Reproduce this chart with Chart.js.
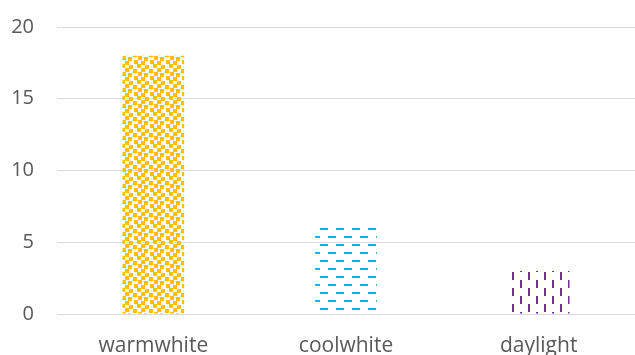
<!DOCTYPE html>
<html>
<head>
<meta charset="utf-8">
<script src="https://cdn.jsdelivr.net/npm/chart.js@4.4.0/dist/chart.umd.min.js"></script>
<style>
  html, body { margin: 0; padding: 0; background: #fff; }
  #wrap { width: 635px; height: 355px; }
</style>
</head>
<body>
<div id="wrap"><canvas id="chart" width="635" height="355"></canvas></div>
<script>
const categories = ['warmwhite', 'coolwhite', 'daylight'];
const counts = [18, 6, 3];
const yTicks = [0, 5, 10, 15, 20];

function makePattern(color, kind, shiftY) {
  const c = document.createElement('canvas');
  c.width = 16; c.height = 16;
  const g = c.getContext('2d');
  g.fillStyle = color;
  if (kind === 'confetti') {
    [[1, 1], [9, 0], [5, 5], [13, 4], [0, 9], [10, 8], [6, 12], [13, 13]].forEach(function (p) {
      for (let dx = -16; dx <= 0; dx += 16) {
        for (let dy = -16; dy <= 0; dy += 16) {
          g.fillRect(p[0] + dx + 16, p[1] + dy + 16, 4, 4);
          g.fillRect(p[0] + dx, p[1] + dy, 4, 4);
        }
      }
    });
  } else if (kind === 'hdash') {
    g.fillRect(0, 0, 8, 2);
    g.fillRect(8, 8, 8, 2);
  } else {
    g.fillRect(0, 0, 2, 8);
    g.fillRect(8, 8, 2, 8);
  }
  const pat = document.getElementById('chart').getContext('2d').createPattern(c, 'repeat');
  if (shiftY) pat.setTransform(new DOMMatrix().translate(0, shiftY));
  return pat;
}

document.addEventListener('DOMContentLoaded', function () {
  const fills = [
    makePattern('#FFC000', 'confetti', 0),
    makePattern('#00B0F0', 'hdash', 4),
    makePattern('#7030A0', 'vdash', 0)
  ];

  new Chart(document.getElementById('chart').getContext('2d'), {
    type: 'bar',
    data: {
      labels: categories,
      datasets: [{
        data: counts,
        backgroundColor: fills,
        borderWidth: 0,
        categoryPercentage: 1,
        barPercentage: 0.32
      }]
    },
    options: {
      responsive: false,
      animation: false,
      layout: { padding: { top: 27, right: 0, left: 0, bottom: 0 } },
      plugins: { legend: { display: false }, tooltip: { enabled: false } },
      scales: {
        x: {
          grid: { display: false },
          border: { color: '#D9D9D9', width: 1 },
          ticks: { color: '#595959', font: { family: 'Open Sans', size: 21 }, padding: 11 },
          afterFit: function (s) { s.height = 41; }
        },
        y: {
          min: 0, max: 20,
          afterBuildTicks: function (s) { s.ticks = yTicks.map(v => ({ value: v })); },
          grid: { color: '#D9D9D9', lineWidth: 1, drawTicks: false },
          border: { display: false },
          ticks: { color: '#595959', font: { family: 'Open Sans', size: 20 }, padding: 23 },
          afterFit: function (s) { s.width = 57; s.paddingTop = 0; s.paddingBottom = 0; }
        }
      }
    }
  });
});
</script>
</body>
</html>
